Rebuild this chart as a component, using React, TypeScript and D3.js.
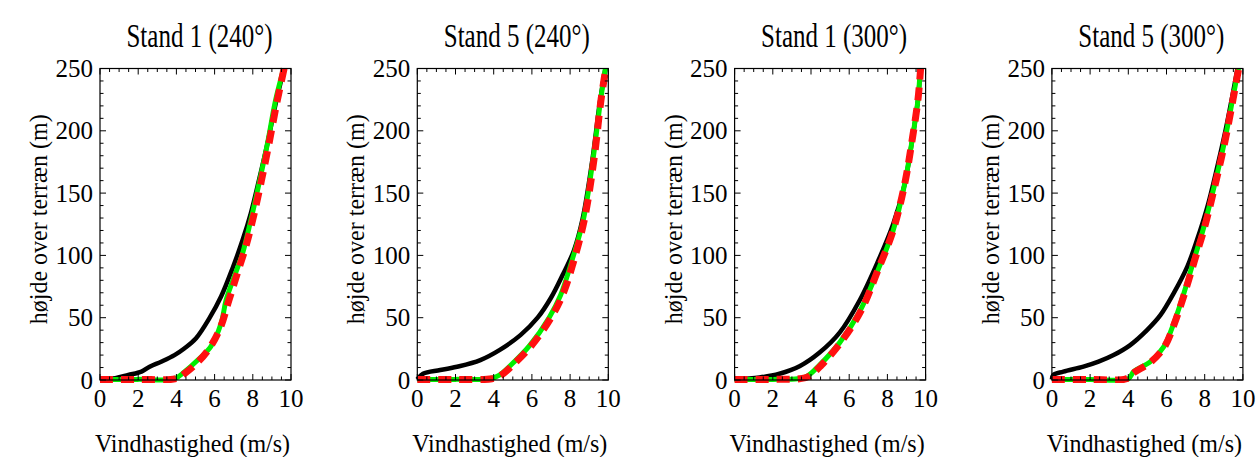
import React from 'react';
import * as d3 from 'd3';

type Pt = [number, number];

const titles = ['Stand 1 (240°)', 'Stand 5 (240°)', 'Stand 1 (300°)', 'Stand 5 (300°)'];
const xTickLabels = [0, 2, 4, 6, 8, 10];
const yTickLabels = [0, 50, 100, 150, 200, 250];
const xLabel = 'Vindhastighed (m/s)';
const yLabel = 'højde over terræn (m)';

// Panel 1: Stand 1 (240°)
const p1Black: Pt[] = [[0, 0.5], [0.8, 1.5], [1.48, 4], [2.17, 6.7], [2.6, 10.7], [3.2, 14.7], [3.9, 20], [4.43, 25.5], [5.03, 33.5], [5.73, 49.6], [6.34, 67], [6.94, 89.7], [7.47, 112.5], [7.9, 134], [8.33, 160.8], [8.77, 190], [9.2, 222], [9.64, 250]];
const p1Green: Pt[] = [[0, 0.5], [2, 0.5], [3.9, 1], [4.43, 6.7], [5.12, 16], [5.8, 26.8], [6.34, 45.5], [6.6, 64], [7.03, 83], [7.47, 102], [7.9, 128.6], [8.37, 160.8], [8.77, 190], [9.2, 225], [9.62, 250]];
const p1Red: Pt[] = [[0, 0.5], [2, 0.5], [4, 1.2], [4.5, 6], [5.1, 14], [5.75, 26], [6.3, 42], [6.75, 64], [7.2, 86], [7.65, 108], [8.05, 132], [8.45, 160], [8.85, 190], [9.25, 222], [9.64, 250]];

// Panel 2: Stand 5 (240°)
const p2Black: Pt[] = [[0, 0.5], [0.3, 5], [1.2, 8], [2.2, 11], [3.3, 16], [4.3, 24], [5.4, 36], [6.3, 50], [7.0, 66], [7.6, 84], [8.2, 104], [8.65, 129], [9.15, 175], [9.55, 222], [9.85, 250]];
const p2Green: Pt[] = [[0, 0.5], [2, 0.5], [3.8, 1], [4.3, 4], [4.9, 12], [5.9, 28], [6.9, 50], [7.5, 68], [8.1, 96], [8.7, 129], [9.2, 177], [9.6, 225], [9.85, 250]];
const p2Red: Pt[] = [[0, 0.5], [2, 0.5], [3.9, 1], [4.4, 4], [5.0, 12], [6.0, 28], [7.0, 50], [7.6, 68], [8.2, 96], [8.75, 129], [9.25, 177], [9.62, 225], [9.87, 250]];

// Panel 3: Stand 1 (300°)
const p3Black: Pt[] = [[0, 0.5], [1.3, 2], [2.35, 5], [3.4, 11], [4.45, 22], [5.5, 38], [6.55, 64], [7.5, 95], [8.3, 125], [8.9, 157], [9.3, 193], [9.6, 225], [9.72, 250]];
const p3Green: Pt[] = [[0, 0.5], [2, 0.5], [3.3, 1], [3.8, 3], [4.45, 12], [5.5, 30], [6.55, 55], [7.5, 88], [8.3, 120], [8.9, 157], [9.3, 193], [9.6, 225], [9.72, 250]];
const p3Red: Pt[] = [[0, 0.5], [2, 0.5], [3.4, 1], [3.9, 3], [4.55, 12], [5.55, 30], [6.6, 55], [7.5, 88], [8.3, 120], [8.9, 157], [9.3, 193], [9.6, 225], [9.74, 250]];

// Panel 4: Stand 5 (300°)
const p4Black: Pt[] = [[0, 0.5], [0.07, 4], [0.6, 6.7], [1.65, 10.7], [2.44, 14.7], [3.23, 20], [4.1, 28], [4.98, 40], [5.68, 52], [6.38, 69.7], [7.09, 91], [7.6, 112.5], [8.14, 139], [8.58, 166], [9.1, 201], [9.72, 250]];
const p4Green: Pt[] = [[0, 0.5], [2, 0.5], [4.0, 1], [4.28, 6.7], [5.16, 14.7], [5.86, 26.8], [6.38, 45.5], [6.91, 69.7], [7.44, 96.5], [7.96, 123], [8.49, 155], [9.02, 190], [9.46, 225], [9.77, 250]];
const p4Red: Pt[] = [[0, 0.5], [2, 0.5], [3.9, 1], [4.3, 6], [5.2, 14.7], [5.9, 26.8], [6.42, 45.5], [6.95, 69.7], [7.48, 96.5], [8.0, 123], [8.52, 155], [9.04, 190], [9.48, 225], [9.78, 250]];

const blacks = [p1Black, p2Black, p3Black, p4Black];
const greens = [p1Green, p2Green, p3Green, p4Green];
const reds = [p1Red, p2Red, p3Red, p4Red];

const W = 1257;
const H = 457;
const FONT = '"Liberation Serif", "Times New Roman", serif';

function Panel({ i }: { i: number }) {
  const left = 100 + i * 317.3;
  const width = 191;
  const top = 68.5;
  const bottom = 380;
  const x = d3.scaleLinear().domain([0, 10]).range([left, left + width]);
  const y = d3.scaleLinear().domain([0, 250]).range([bottom, top]);
  const line = d3
    .line<Pt>()
    .x((d) => x(d[0]))
    .y((d) => y(d[1]))
    .curve(d3.curveCatmullRom.alpha(0.5));

  const xMinor = d3.range(0, 10.001, 0.5);
  const yMinor = d3.range(0, 250.001, 10);
  const cx = left + width / 2;
  const cy = (top + bottom) / 2;

  return (
    <g>
      <defs>
        <clipPath id={`clip${i}`}>
          <rect x={left - 4} y={top - 3} width={width + 8} height={bottom - top + 6} />
        </clipPath>
      </defs>
      <g clipPath={`url(#clip${i})`}>
        <path d={line(blacks[i]) || ''} fill="none" stroke="#000" strokeWidth={4.5} strokeLinejoin="round" />
        <path d={line(greens[i]) || ''} fill="none" stroke="#00ee00" strokeWidth={5} strokeLinejoin="round" />
        <path d={line(reds[i]) || ''} fill="none" stroke="#ff1010" strokeWidth={7} strokeDasharray="13,8" />
      </g>
      <rect x={left} y={top} width={width} height={bottom - top} fill="none" stroke="#000" strokeWidth={1.2} />
      {xMinor.map((v) => {
        const major = Math.abs(v % 2) < 1e-6;
        const len = major ? 6 : 3.5;
        return (
          <g key={`xt${v}`} stroke="#000" strokeWidth={1}>
            <line x1={x(v)} x2={x(v)} y1={bottom} y2={bottom - len} />
            <line x1={x(v)} x2={x(v)} y1={top} y2={top + len} />
          </g>
        );
      })}
      {yMinor.map((v) => {
        const major = v % 50 === 0;
        const len = major ? 6 : 3.5;
        return (
          <g key={`yt${v}`} stroke="#000" strokeWidth={1}>
            <line x1={left} x2={left + len} y1={y(v)} y2={y(v)} />
            <line x1={left + width} x2={left + width - len} y1={y(v)} y2={y(v)} />
          </g>
        );
      })}
      {xTickLabels.map((v) => (
        <text key={`xl${v}`} x={x(v)} y={407} textAnchor="middle" fontFamily={FONT} fontSize={25}>
          {v}
        </text>
      ))}
      {yTickLabels.map((v) => (
        <text key={`yl${v}`} x={left - 7} y={y(v) + 8.5} textAnchor="end" fontFamily={FONT} fontSize={25}>
          {v}
        </text>
      ))}
      <g transform={`translate(${cx + 4}, 47) scale(1, 1.32)`}>
        <text x={0} y={0} textAnchor="middle" fontFamily={FONT} fontSize={25}>
          {titles[i]}
        </text>
      </g>
      <g transform={`translate(${cx - 3}, 452) scale(1, 1.08)`}>
        <text x={0} y={0} textAnchor="middle" fontFamily={FONT} fontSize={24}>
          {xLabel}
        </text>
      </g>
      <g transform={`translate(${left - 53}, ${cy - 5}) rotate(-90) scale(1, 1.08)`}>
        <text x={0} y={0} textAnchor="middle" fontFamily={FONT} fontSize={24}>
          {yLabel}
        </text>
      </g>
    </g>
  );
}

export default function App() {
  return (
    <svg
      width={W}
      height={H}
      viewBox={`0 0 ${W} ${H}`}
      style={{ position: 'absolute', left: 0, top: 0, background: '#fff' }}
    >
      <rect x={0} y={0} width={W} height={H} fill="#fff" />
      {[0, 1, 2, 3].map((i) => (
        <Panel key={i} i={i} />
      ))}
    </svg>
  );
}
